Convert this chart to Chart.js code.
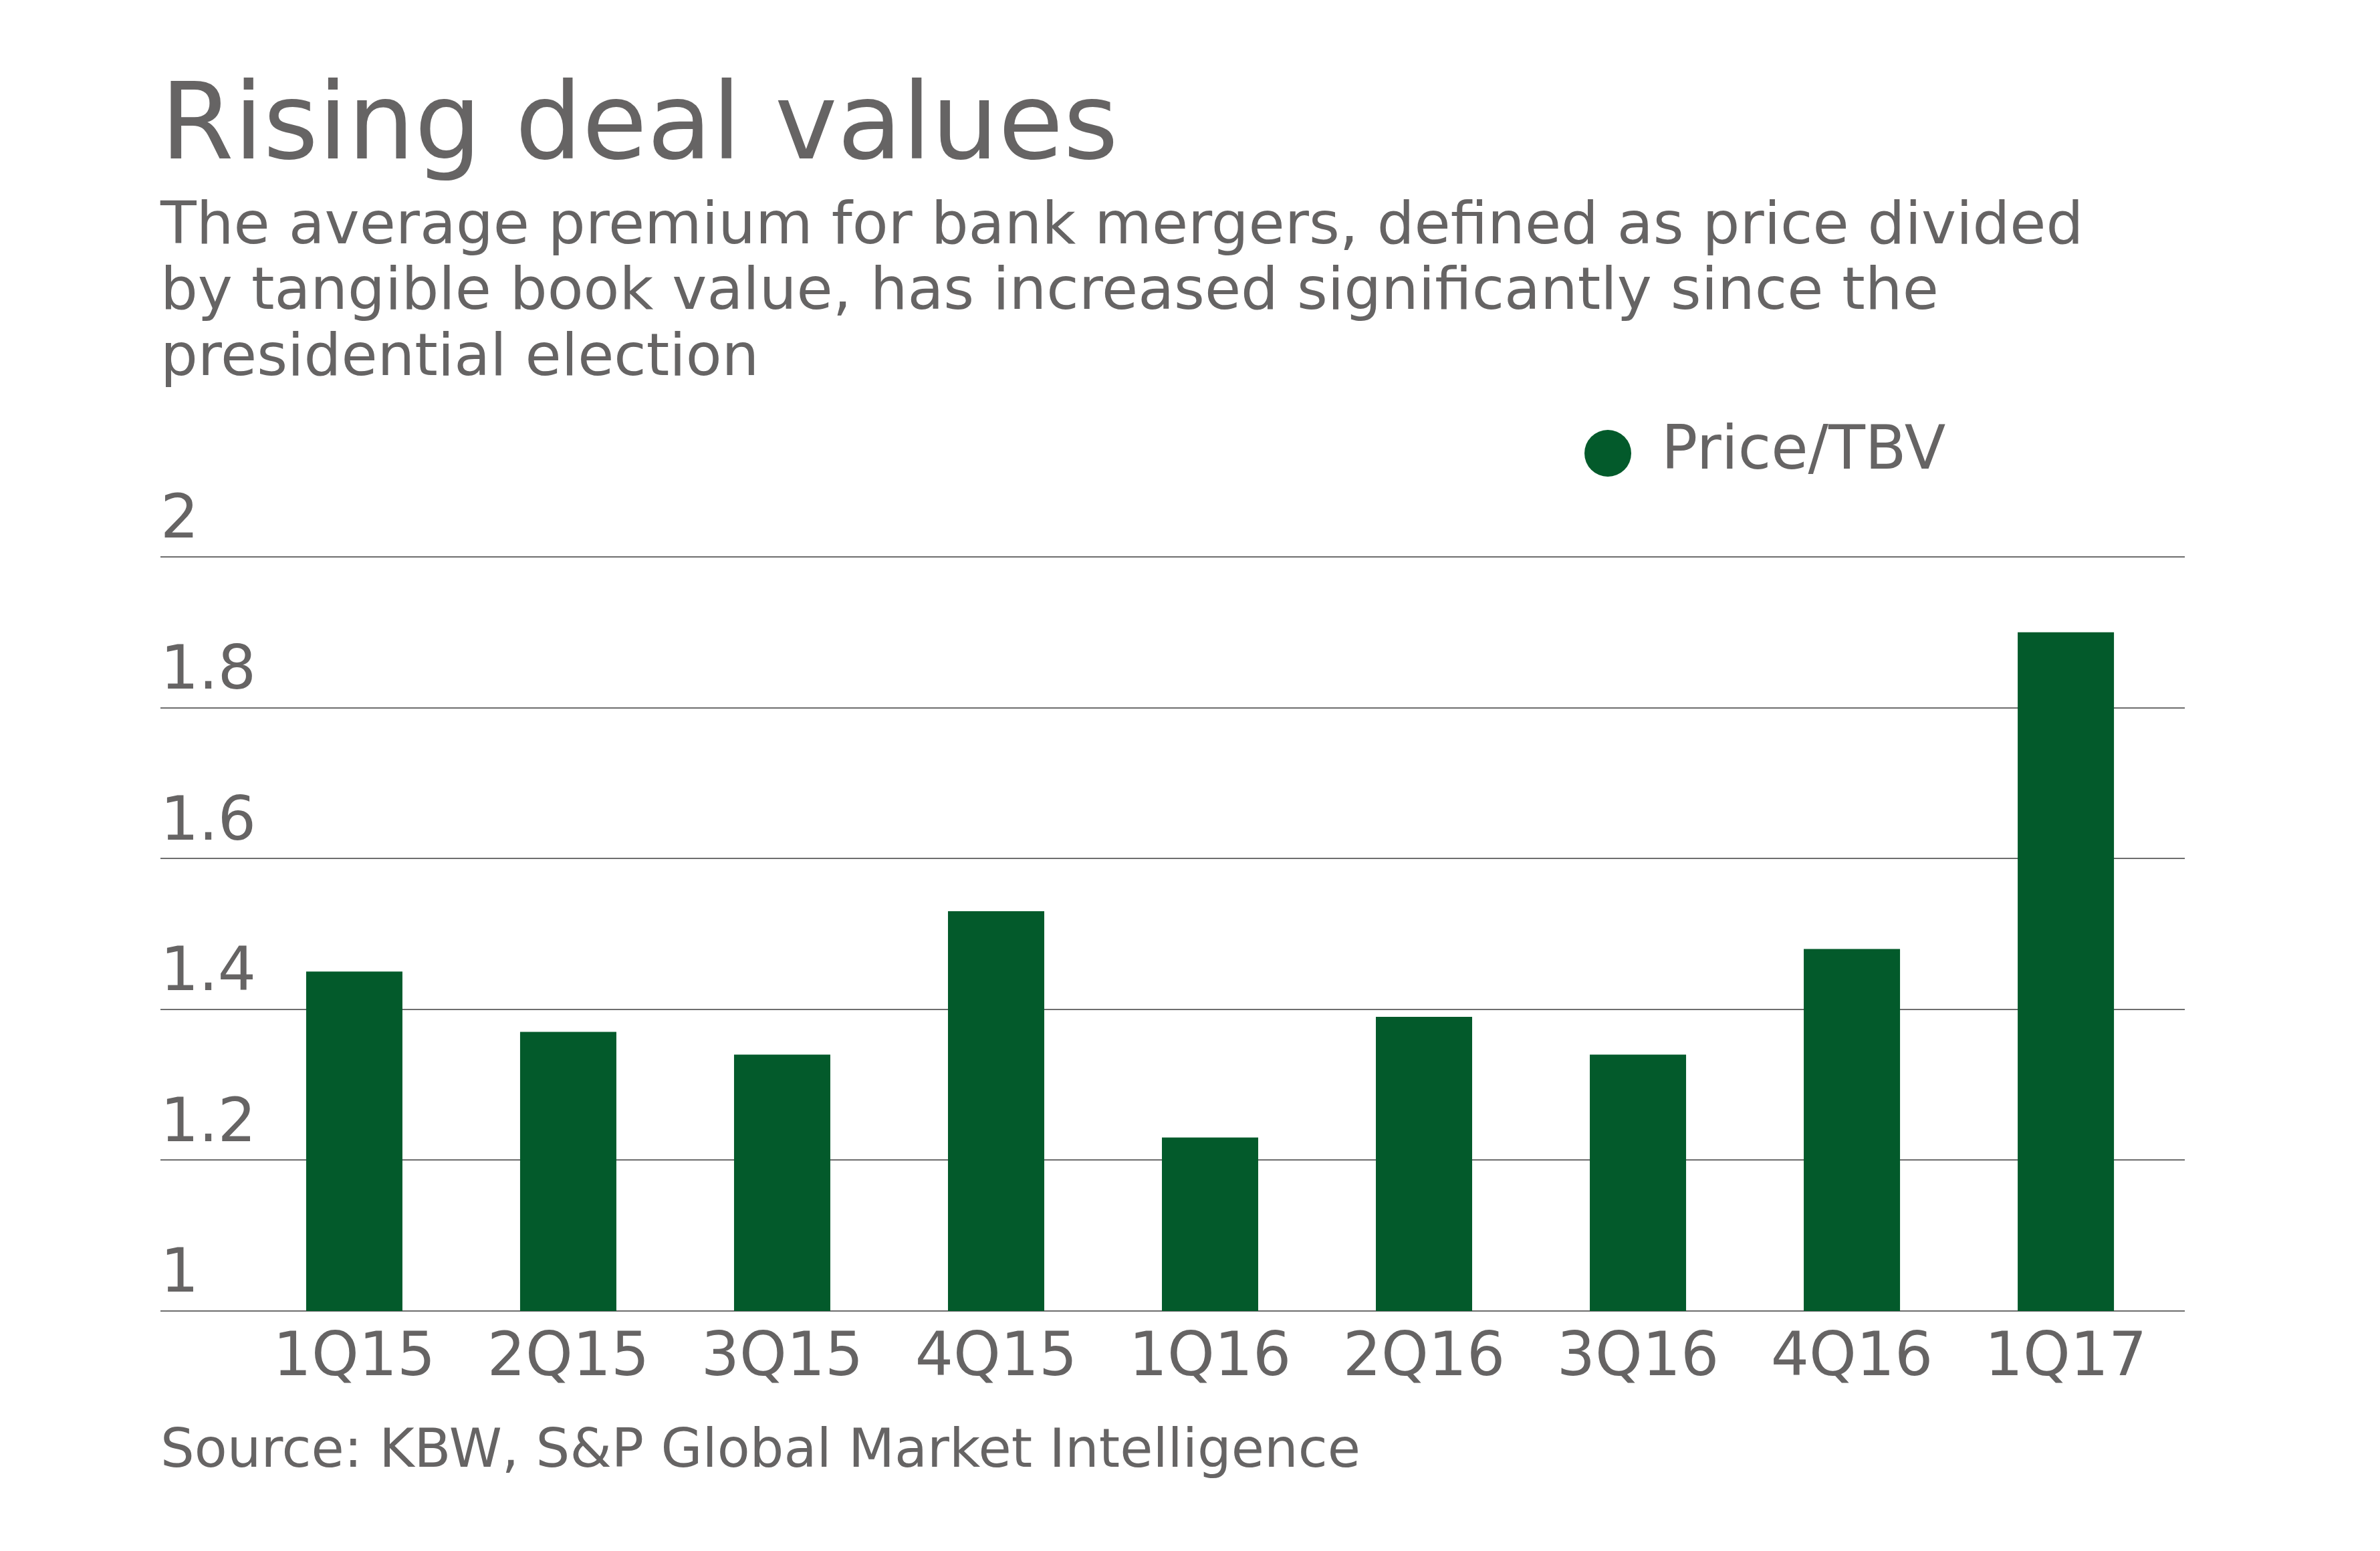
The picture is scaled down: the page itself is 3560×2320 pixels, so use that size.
<!DOCTYPE html>
<html>
<head>
<meta charset="utf-8">
<title>Rising deal values</title>
<script src="https://cdn.jsdelivr.net/npm/chart.js@4.4.1/dist/chart.umd.min.js"></script>
<style>
  html, body { margin: 0; background: #fff; }
  #wrap { width: 3560px; height: 2320px; }
</style>
</head>
<body>
<div id="wrap"><canvas id="dealChart"></canvas></div>
<script>
const quarters = ['1Q15', '2Q15', '3Q15', '4Q15', '1Q16', '2Q16', '3Q16', '4Q16', '1Q17'];
const priceToTbv = [1.45, 1.37, 1.34, 1.53, 1.23, 1.39, 1.34, 1.48, 1.90];
const yTicks = [1, 1.2, 1.4, 1.6, 1.8, 2];

const titleText = 'Rising deal values';
const subtitleLines = [
  'The average premium for bank mergers, defined as price divided',
  'by tangible book value, has increased significantly since the',
  'presidential election',
];
const sourceText = 'Source: KBW, S&P Global Market Intelligence';

const grey = '#666464';
const green = '#035a2b';

Chart.defaults.font.family = "'DejaVu Sans', Verdana, sans-serif";
Chart.defaults.color = grey;

let dealChart = new Chart(document.getElementById('dealChart').getContext('2d'), {
  type: 'bar',
  data: {
    datasets: [
      {
        label: 'Price/TBV',
        data: quarters.map((q, i) => ({ x: i, y: priceToTbv[i] })),
        backgroundColor: green,
        borderWidth: 0,
        categoryPercentage: 1,
        barPercentage: 0.45,
      },
    ],
  },
  options: {
    responsive: true,
    maintainAspectRatio: false,
    animation: false,
    layout: {
      padding: { left: 240, right: 292, top: 0, bottom: 93 },
    },
    plugins: {
      title: {
        display: true,
        text: titleText,
        align: 'start',
        color: grey,
        font: { size: 158, weight: 'normal', lineHeight: 1 },
        padding: { top: 117.4, bottom: 0 },
      },
      // legend sits right under the title; its big padding pushes it
      // in from the right edge and down to the level of the plot top
      legend: {
        display: true,
        position: 'top',
        align: 'end',
        weight: 1000,
        labels: {
          usePointStyle: true,
          pointStyle: 'circle',
          boxWidth: 70,
          boxHeight: 49.5,
          padding: 357.6,
          color: grey,
          font: { size: 90 },
        },
      },
      // subtitle box comes after the legend (lower weight) and is drawn
      // back up under the title, its box only spaces the plot down
      subtitle: {
        display: true,
        weight: 500,
        text: subtitleLines,
        align: 'start',
        color: grey,
        font: { size: 88, weight: 'normal', lineHeight: 1.119 },
        padding: { top: -441.5, bottom: 246 },
      },
      tooltip: { enabled: false },
    },
    scales: {
      x: {
        type: 'linear',
        offset: false,
        min: -0.906,
        max: 8.556,
        grid: { display: false },
        border: { display: false },
        afterBuildTicks: (axis) => {
          axis.ticks = quarters.map((q, i) => ({ value: i }));
        },
        ticks: {
          callback: (v) => quarters[v],
          font: { size: 90 },
          color: grey,
          padding: 11,
          maxRotation: 0,
          autoSkip: false,
        },
        title: {
          display: true,
          text: sourceText,
          align: 'start',
          color: grey,
          font: { size: 80 },
          padding: { top: 26, bottom: 6 },
        },
      },
      y: {
        min: 1,
        max: 2,
        afterBuildTicks: (axis) => {
          axis.ticks = yTicks.map((v) => ({ value: v }));
        },
        grid: { color: '#6e6e6e', lineWidth: 2, drawTicks: false },
        border: { display: false },
        ticks: {
          mirror: true,
          padding: 0,
          labelOffset: -52,
          color: grey,
          font: { size: 90 },
          callback: (v) => String(v),
        },
      },
    },
  },
});
</script>
</body>
</html>
